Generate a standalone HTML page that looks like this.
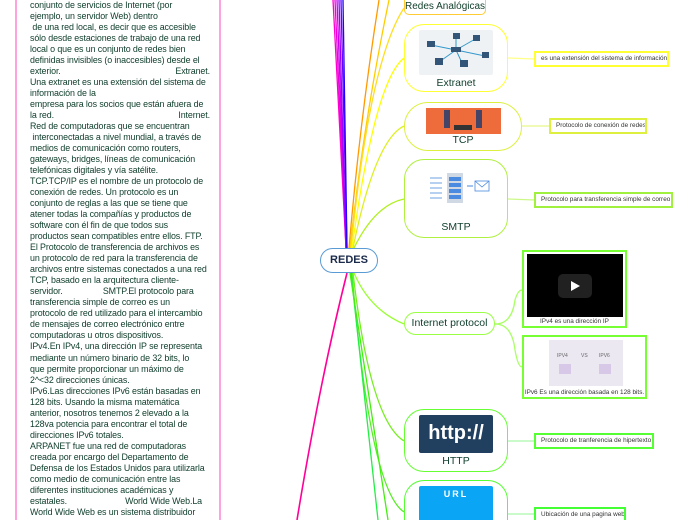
<!DOCTYPE html>
<html><head><meta charset="utf-8"><style>
*{margin:0;padding:0;box-sizing:border-box}
html,body{width:696px;height:520px;overflow:hidden}
body{background:#fff;font-family:"Liberation Sans","DejaVu Sans",sans-serif}
#wrap{position:relative;width:696px;height:520px;overflow:hidden}
.txt{position:absolute;left:30px;top:0;width:180px;height:520px;overflow:hidden;font-size:8.9px;color:#12402e;line-height:11.02px;letter-spacing:-0.1px}
.txt div{white-space:pre;height:11.02px;overflow:visible}
.j{display:flex;justify-content:space-between}
.node{position:absolute;border:1.5px solid;border-radius:20px;background:#fff;text-align:center;color:#12402e;font-size:10.5px;white-space:nowrap}
.note{position:absolute;border:2px solid;background:#fff;font-size:6.4px;color:#333;padding-left:5px;line-height:12px;white-space:nowrap;overflow:hidden}
.lbl{position:absolute;left:0;right:0;text-align:center;font-size:10.5px;color:#12402e}
</style></head><body><div id="wrap">
<svg width="696" height="520" style="position:absolute;left:0;top:0">
<line x1="16" y1="0" x2="16" y2="520" stroke="#ff66cc" stroke-width="1.2"/>
<line x1="220" y1="0" x2="220" y2="520" stroke="#ff66cc" stroke-width="1.2"/>
<g fill="none" stroke-width="1.3">
<path d="M346 248 L333 0" stroke="#ff00cc"/>
<path d="M346 248 L335 0" stroke="#ee00dd"/>
<path d="M346 248 L337 0" stroke="#cc00ee"/>
<path d="M346 248 L339 0" stroke="#9900ff"/>
<path d="M347 248 L341 0" stroke="#6600ff"/>
<path d="M347 248 L343 0" stroke="#2200ff"/>
<path d="M349 248 Q360 120 379 0" stroke="#ff9900"/>
<path d="M350 248 Q364 120 389 0" stroke="#ffcc00"/>
<path d="M351 248 Q370 60 404 8" stroke="#ffdd22"/>
<path d="M352 248 Q375 80 404 58" stroke="#ffff00"/>
<path d="M353 248 Q375 140 404 126" stroke="#ddf020"/>
<path d="M354 248 Q375 205 404 199" stroke="#b0f020"/>
<path d="M354 273 Q370 310 404 324" stroke="#99ff33"/>
<path d="M353 273 Q370 420 404 441" stroke="#77ee22"/>
<path d="M352 273 Q370 490 404 512" stroke="#55ee22"/>
<path d="M351 273 L378 520" stroke="#22ee44"/>
<path d="M350 273 L388 520" stroke="#44ee11"/>
<path d="M347 273 Q320 380 297 520" stroke="#ff0099" stroke-width="1.6"/>
<path d="M495 324 Q512 324 515 300 Q518 290 522 290" stroke="#aaff66"/>
<path d="M495 324 Q512 324 515 350 Q518 367 522 367" stroke="#aaff66"/>
<path d="M508 58 L535 59" stroke="#ffff88"/>
<path d="M522 126 L549 126" stroke="#e8f888"/>
<path d="M508 199 L535 200" stroke="#ccf888"/>
<path d="M508 441 L535 441" stroke="#aaf8aa"/>
<path d="M508 514 L535 514" stroke="#aaf8aa"/>
</g>
</svg>

<div class="txt">
<div>conjunto de servicios de Internet (por</div>
<div>ejemplo, un servidor Web) dentro</div>
<div> de una red local, es decir que es accesible</div>
<div>sólo desde estaciones de trabajo de una red</div>
<div>local o que es un conjunto de redes bien</div>
<div>definidas invisibles (o inaccesibles) desde el</div>
<div class="j"><span>exterior.</span><span>Extranet.</span></div>
<div>Una extranet es una extensión del sistema de</div>
<div>información de la</div>
<div>empresa para los socios que están afuera de</div>
<div class="j"><span>la red.</span><span>Internet.</span></div>
<div>Red de computadoras que se encuentran</div>
<div> interconectadas a nivel mundial, a través de</div>
<div>medios de comunicación como routers,</div>
<div>gateways, bridges, líneas de comunicación</div>
<div>telefónicas digitales y vía satélite.</div>
<div>TCP.TCP/IP es el nombre de un protocolo de</div>
<div>conexión de redes. Un protocolo es un</div>
<div>conjunto de reglas a las que se tiene que</div>
<div>atener todas la compañías y productos de</div>
<div>software con él fin de que todos sus</div>
<div>productos sean compatibles entre ellos. FTP.</div>
<div>El Protocolo de transferencia de archivos es</div>
<div>un protocolo de red para la transferencia de</div>
<div>archivos entre sistemas conectados a una red</div>
<div>TCP, basado en la arquitectura cliente-</div>
<div>servidor.                 SMTP.El protocolo para</div>
<div>transferencia simple de correo es un</div>
<div>protocolo de red utilizado para el intercambio</div>
<div>de mensajes de correo electrónico entre</div>
<div>computadoras u otros dispositivos.</div>
<div>IPv4.En IPv4, una dirección IP se representa</div>
<div>mediante un número binario de 32 bits, lo</div>
<div>que permite proporcionar un máximo de</div>
<div>2^&lt;32 direcciones únicas.</div>
<div>IPv6.Las direcciones IPv6 están basadas en</div>
<div>128 bits. Usando la misma matemática</div>
<div>anterior, nosotros tenemos 2 elevado a la</div>
<div>128va potencia para encontrar el total de</div>
<div>direcciones IPv6 totales.</div>
<div>ARPANET fue una red de computadoras</div>
<div>creada por encargo del Departamento de</div>
<div>Defensa de los Estados Unidos para utilizarla</div>
<div>como medio de comunicación entre las</div>
<div>diferentes instituciones académicas y</div>
<div class="j" style="width:172px"><span>estatales.</span><span>World Wide Web.La</span></div>
<div>World Wide Web es un sistema distribuidor</div>
</div>

<div class="node" style="left:320px;top:248px;width:58px;height:25px;border-color:#5a9bd5;border-radius:13px;line-height:22px;font-weight:bold;color:#1a2a4a;font-size:11px">REDES</div>

<div class="node" style="left:404px;top:-10px;width:82px;height:25px;border-color:#ffcc33;border-radius:5px;padding-top:10px;font-size:10px">Redes Analógicas</div>

<div class="node" style="left:404px;top:24px;width:104px;height:68px;border-color:#ffff33">
<div style="position:absolute;left:14px;top:5px;width:74px;height:45px;background:#eef2f5;border-radius:2px">
<svg width="74" height="45"><g stroke="#39c" stroke-width="1"><line x1="37" y1="20" x2="12" y2="15"/><line x1="37" y1="20" x2="37" y2="6"/><line x1="37" y1="20" x2="58" y2="8"/><line x1="37" y1="20" x2="66" y2="26"/><line x1="37" y1="20" x2="44" y2="35"/><line x1="37" y1="20" x2="20" y2="32"/></g><g fill="#357"><rect x="32" y="17" width="10" height="5"/><rect x="8" y="11" width="8" height="6"/><rect x="34" y="3" width="7" height="6"/><rect x="54" y="5" width="7" height="6"/><rect x="63" y="22" width="7" height="6"/><rect x="41" y="30" width="8" height="7"/><rect x="16" y="28" width="8" height="7"/></g></svg></div>
<div class="lbl" style="top:52px">Extranet</div></div>
<div class="note" style="left:534px;top:51px;width:135px;height:16px;border-color:#ffff33">es una extensión del sistema de información</div>

<div class="node" style="left:404px;top:102px;width:118px;height:49px;border-color:#ddf040;border-radius:24px">
<div style="position:absolute;left:21px;top:5px;width:75px;height:26px;background:#ee6b3b"><div style="position:absolute;left:18px;top:2px;width:6px;height:18px;background:#446"></div><div style="position:absolute;left:50px;top:2px;width:6px;height:18px;background:#446"></div><div style="position:absolute;left:28px;top:17px;width:18px;height:5px;background:#333"></div></div>
<div class="lbl" style="top:31px">TCP</div></div>
<div class="note" style="left:549px;top:118px;width:98px;height:16px;border-color:#ddf040">Protocolo de conexión de redes</div>

<div class="node" style="left:404px;top:159px;width:104px;height:79px;border-color:#b0f040">
<svg width="100" height="50" style="position:absolute;left:20px;top:8px"><g stroke="#4a8ae0" stroke-width="0.8"><line x1="5" y1="10" x2="17" y2="10"/><line x1="5" y1="15" x2="17" y2="15"/><line x1="5" y1="20" x2="17" y2="20"/><line x1="5" y1="25" x2="17" y2="25"/><line x1="5" y1="30" x2="17" y2="30"/></g><rect x="22" y="5" width="16" height="30" fill="#cfd8e3"/><g fill="#4a8ae0"><rect x="24" y="9" width="12" height="4"/><rect x="24" y="15" width="12" height="4"/><rect x="24" y="21" width="12" height="4"/><rect x="24" y="27" width="12" height="4"/></g><line x1="42" y1="18" x2="48" y2="18" stroke="#4a8ae0"/><rect x="50" y="13" width="14" height="10" fill="none" stroke="#4a8ae0" stroke-width="0.8"/><path d="M50 13 L57 19 L64 13" fill="none" stroke="#4a8ae0" stroke-width="0.8"/></svg>
<div class="lbl" style="top:61px">SMTP</div></div>
<div class="note" style="left:534px;top:192px;width:139px;height:16px;border-color:#a0f040">Protocolo para transferencia simple de correo</div>

<div class="node" style="left:404px;top:312px;width:91px;height:23px;border-color:#99ff44;border-radius:12px;line-height:20px">Internet protocol</div>

<div class="note" style="left:522px;top:250px;width:105px;height:78px;border-color:#77ff33;padding:0">
<div style="position:absolute;left:3px;top:2px;width:96px;height:63px;background:#000"><div style="position:absolute;left:31px;top:20px;width:34px;height:24px;background:#212121;border-radius:5px"></div><div style="position:absolute;left:44px;top:27px;width:0;height:0;border-left:9px solid #fff;border-top:5px solid transparent;border-bottom:5px solid transparent"></div></div>
<div style="position:absolute;left:0;right:0;top:64px;text-align:center">IPv4 es una dirección IP</div></div>

<div class="note" style="left:522px;top:335px;width:125px;height:64px;border-color:#77ff33;padding:0">
<div style="position:absolute;left:25px;top:3px;width:74px;height:46px;background:#ebe8f2;font-size:5px;color:#666"><span style="position:absolute;left:8px;top:10px">IPV4</span><span style="position:absolute;left:32px;top:10px">VS</span><span style="position:absolute;left:50px;top:10px">IPV6</span><div style="position:absolute;left:10px;top:24px;width:12px;height:10px;background:#d8c8e8"></div><div style="position:absolute;left:50px;top:24px;width:12px;height:10px;background:#d8c8e8"></div></div>
<div style="position:absolute;left:0;right:0;top:50px;text-align:center">IPv6 Es una dirección basada en 128 bits.</div></div>

<div class="node" style="left:404px;top:409px;width:104px;height:63px;border-color:#66ff33">
<div style="position:absolute;left:14px;top:5px;width:74px;height:38px;background:#213f5f;border-radius:2px;color:#fff;font-weight:bold;font-size:20px;line-height:36px">http://</div>
<div class="lbl" style="top:45px">HTTP</div></div>
<div class="note" style="left:534px;top:433px;width:120px;height:16px;border-color:#55ff33">Protocolo de tranferencia de hipertexto</div>

<div class="node" style="left:404px;top:480px;width:104px;height:40px;border-color:#55ff33;border-bottom:none;border-radius:20px 20px 0 0;overflow:hidden">
<div style="position:absolute;left:14px;top:5px;width:74px;height:40px;background:#0aa5f5;border-radius:2px;color:#fff;font-weight:bold;font-size:9px;letter-spacing:2px;line-height:16px">URL</div></div>
<div class="note" style="left:534px;top:507px;width:92px;height:13px;border-color:#44ff33;border-bottom:none">Ubicación de una pagina web</div>
</div></body></html>
